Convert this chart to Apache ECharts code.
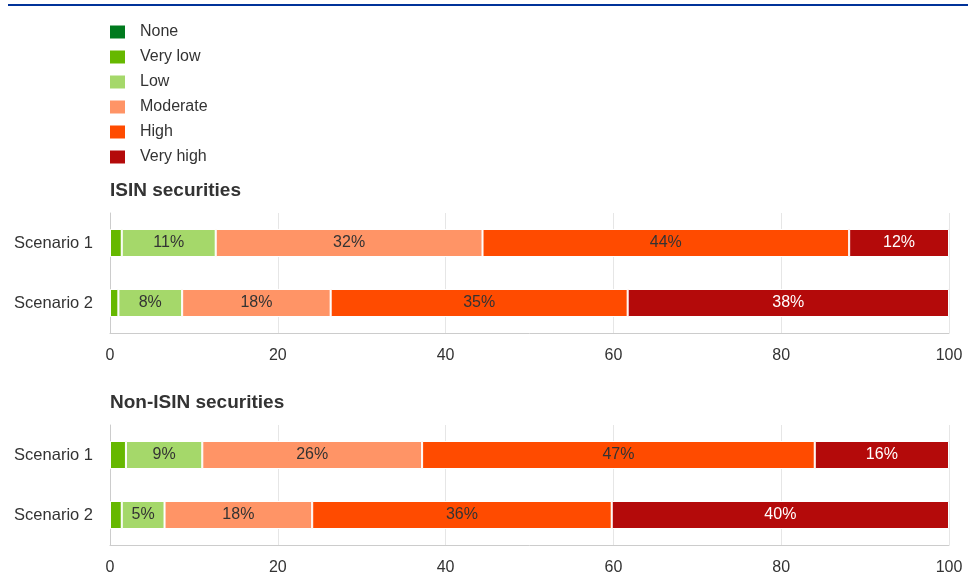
<!DOCTYPE html>
<html><head><meta charset="utf-8">
<script src="https://cdn.jsdelivr.net/npm/echarts@6/dist/echarts.min.js"></script>
<style>html,body{margin:0;padding:0;background:#fff}#c{width:976px;height:588px}</style>
</head><body><div id="c"></div>
<script>
var categories = ['Scenario 1', 'Scenario 2'];
var levels = ['None', 'Very low', 'Low', 'Moderate', 'High', 'Very high'];
var colors = ['#007a1e', '#66b800', '#a5d86a', '#ff9466', '#ff4b00', '#b40a0a'];
var xTicks = [0, 20, 40, 60, 80, 100];
var titles = ['ISIN securities', 'Non-ISIN securities'];
// values per level: [Scenario 1, Scenario 2]
var isinNone = [0, 0];
var isinVeryLow = [1.4, 1.0];
var isinLow = [11.2, 7.6];
var isinModerate = [31.8, 17.7];
var isinHigh = [43.7, 35.4];
var isinVeryHigh = [11.9, 38.3];
var nonNone = [0, 0];
var nonVeryLow = [1.9, 1.4];
var nonLow = [9.1, 5.1];
var nonModerate = [26.2, 17.6];
var nonHigh = [46.8, 35.7];
var nonVeryHigh = [16.0, 40.2];

var isin = [isinNone, isinVeryLow, isinLow, isinModerate, isinHigh, isinVeryHigh];
var non = [nonNone, nonVeryLow, nonLow, nonModerate, nonHigh, nonVeryHigh];

var font = 'Liberation Sans, Arial, sans-serif';
var tops = [213, 425];
var grids = tops.map(function(t){ return {left:110, right:27, top:t, height:120}; });

var xAxes = grids.map(function(g, i){ return {
  type:'value', gridIndex:i, min:0, max:100, interval:20,
  axisLine:{show:true, lineStyle:{color:'#cccccc'}}, axisTick:{show:false},
  splitLine:{show:true, lineStyle:{color:'#e6e6e6', width:1}},
  axisLabel:{color:'#333', fontSize:16, fontFamily:font, margin:15,
    formatter:function(v){ return xTicks.indexOf(v) >= 0 ? String(v) : ''; }}
};});
var yAxes = grids.map(function(g, i){ return {
  type:'category', gridIndex:i, data:categories, inverse:true,
  axisLine:{show:true, lineStyle:{color:'#cccccc'}}, axisTick:{show:false},
  axisLabel:{color:'#333', fontSize:16.5, fontFamily:font, margin:17}
};});

var series = [];
[isin, non].forEach(function(set, gi){
  set.forEach(function(vals, li){
    series.push({
      type:'bar', name:levels[li], stack:'s'+gi, xAxisIndex:gi, yAxisIndex:gi,
      data:vals, barWidth:28,
      itemStyle:{color:colors[li], borderColor:'#ffffff', borderWidth:1},
      label:{show:true, position:'inside', fontSize:16, fontFamily:font,
        color: li === 5 ? '#ffffff' : '#333333',
        formatter:function(p){ return p.value >= 3 ? Math.round(p.value) + '%' : ''; }},
      emphasis:{disabled:true}
    });
  });
});

var chart = echarts.init(document.getElementById('c'), null, {renderer:'canvas'});
chart.setOption({
  animation:false,
  color:colors,
  title: titles.map(function(t, i){ return {text:t, left:105, top: i===0 ? 176 : 388,
    textStyle:{fontSize:19, fontWeight:'bold', color:'#333', fontFamily:font}}; }),
  legend:{data:levels, orient:'vertical', left:105, top:19, itemWidth:15, itemHeight:13,
    itemGap:9, icon:'rect', itemStyle:{borderWidth:0},
    textStyle:{fontSize:16, color:'#333', fontFamily:font, padding:[0,0,0,10]}},
  graphic:[{type:'rect', shape:{x:8, y:4, width:960, height:2}, style:{fill:'#003299'}, silent:true}],
  grid:grids, xAxis:xAxes, yAxis:yAxes, series:series
});
</script></body></html>
